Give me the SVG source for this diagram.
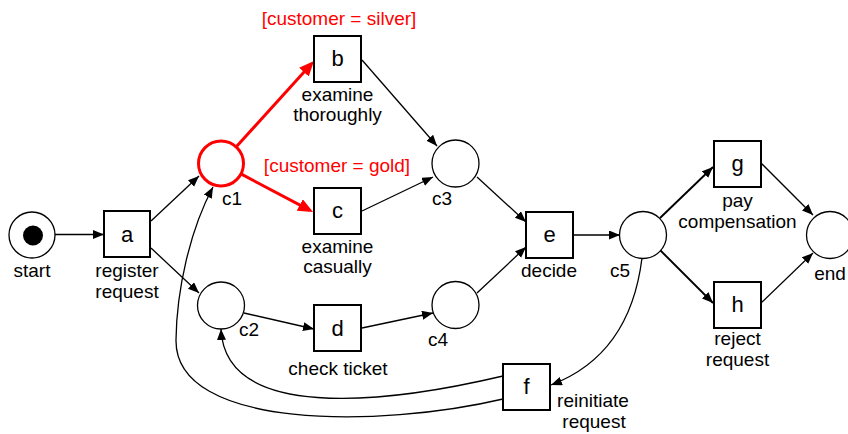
<svg xmlns="http://www.w3.org/2000/svg" width="848" height="434" viewBox="0 0 848 434">
<style>
text{font-family:"Liberation Sans",Arial,sans-serif;fill:#000;text-anchor:middle}
.lbl{font-size:19px}
.tl{font-size:22px}
.red{fill:#ff0000}
.tr{fill:#fff;stroke:#000;stroke-width:2}
.pl{fill:#fff;stroke:#000;stroke-width:1.3}
.plr{fill:#fff;stroke:#ff0000;stroke-width:3}
.arc{fill:none;stroke:#000;stroke-width:1.3;marker-end:url(#ah)}
.thick{stroke-width:1.9}
.arcr{fill:none;stroke:#ff0000;stroke-width:3;marker-end:url(#ahr)}
</style>
<defs>
<marker id="ah" markerWidth="12" markerHeight="10" refX="11" refY="4.5" orient="auto" markerUnits="userSpaceOnUse"><path d="M0,0 L11,4.5 L0,9 z" fill="#000"/></marker>
<marker id="ahr" markerWidth="16" markerHeight="14" refX="11" refY="6.5" orient="auto" markerUnits="userSpaceOnUse"><path d="M0,0 L15,6.5 L0,13 z" fill="#ff0000"/></marker>
</defs>
<rect width="848" height="434" fill="#fff"/>
<g id="connectors">
<path class="arc" d="M55,234.5 L104,234.5"/>
<path class="arc" d="M151,221 L199,176"/>
<path class="arc" d="M151,248 L199,293"/>
<path class="arcr" d="M236.5,146.5 L311.3,64"/>
<path class="arcr" d="M241.4,174.2 L309.5,210.1"/>
<path class="arc" d="M362,60 L437,146"/>
<path class="arc" d="M362,211 L433,177"/>
<path class="arc" d="M244,313 L314,329"/>
<path class="arc" d="M362,328 L433,313"/>
<path class="arc" d="M477,177 L526,222"/>
<path class="arc" d="M477,293 L526,247"/>
<path class="arc" d="M573,235 L620,235"/>
<path class="arc thick" d="M660,218 L713,167"/>
<path class="arc" d="M761,163 L813,215"/>
<path class="arc thick" d="M660,250 L713,303"/>
<path class="arc" d="M761,303 L813,253"/>
<path class="arc" d="M642,258 Q630,355 551,385"/>
<path class="arc" d="M503,376 C380,405 225,420 221,329"/>
<path class="arc" d="M503,399 C380,428 175,430 176,340 C176.6,290 190,230 213,187"/>
</g>
<g id="start">
<circle class="pl" cx="32" cy="235" r="23"/>
<circle cx="33" cy="235.5" r="10" fill="#000"/>
<text class="lbl" x="32" y="277">start</text>
</g>
<g id="a">
<rect class="tr" x="104" y="211" width="46" height="46"/>
<text class="tl" x="127" y="242">a</text>
<text class="lbl" x="127" y="277">register</text>
<text class="lbl" x="127" y="298">request</text>
</g>
<g id="c1">
<circle class="plr" cx="221" cy="163.5" r="22.5"/>
<text class="lbl" x="232" y="205">c1</text>
</g>
<g id="c2">
<circle class="pl" cx="221" cy="305.5" r="23.5"/>
<text class="lbl" x="249" y="336">c2</text>
</g>
<g id="b">
<rect class="tr" x="314" y="36" width="47" height="46"/>
<text class="tl" x="337.5" y="66">b</text>
<text class="lbl red" x="339" y="25">[customer = silver]</text>
<text class="lbl" x="337.5" y="101">examine</text>
<text class="lbl" x="337.5" y="121">thoroughly</text>
</g>
<g id="c">
<rect class="tr" x="314" y="188" width="47" height="46"/>
<text class="tl" x="337.5" y="218">c</text>
<text class="lbl red" x="337" y="172">[customer = gold]</text>
<text class="lbl" x="337.5" y="253">examine</text>
<text class="lbl" x="337.5" y="273">casually</text>
</g>
<g id="d">
<rect class="tr" x="314" y="305" width="47" height="46"/>
<text class="tl" x="337.5" y="336">d</text>
<text class="lbl" x="338" y="375">check ticket</text>
</g>
<g id="c3">
<circle class="pl" cx="455.5" cy="163.5" r="23.5"/>
<text class="lbl" x="442" y="205">c3</text>
</g>
<g id="c4">
<circle class="pl" cx="455.5" cy="305" r="23.5"/>
<text class="lbl" x="438" y="346">c4</text>
</g>
<g id="e">
<rect class="tr" x="526" y="212" width="47" height="46"/>
<text class="tl" x="549.5" y="242">e</text>
<text class="lbl" x="549" y="277">decide</text>
</g>
<g id="c5">
<circle class="pl" cx="643" cy="235" r="23.5"/>
<text class="lbl" x="620" y="277">c5</text>
</g>
<g id="g">
<rect class="tr" x="714" y="141" width="47" height="46"/>
<text class="tl" x="737.5" y="171">g</text>
<text class="lbl" x="737.5" y="207">pay</text>
<text class="lbl" x="737.5" y="228">compensation</text>
</g>
<g id="h">
<rect class="tr" x="714" y="282" width="47" height="46"/>
<text class="tl" x="737.5" y="312">h</text>
<text class="lbl" x="737.5" y="345">reject</text>
<text class="lbl" x="737.5" y="366">request</text>
</g>
<g id="end">
<circle class="pl" cx="830" cy="235" r="23.5"/>
<text class="lbl" x="830" y="280">end</text>
</g>
<g id="f">
<rect class="tr" x="503" y="364" width="47" height="46"/>
<text class="tl" x="526.5" y="394">f</text>
<text class="lbl" x="593" y="407">reinitiate</text>
<text class="lbl" x="594" y="428">request</text>
</g>
</svg>
